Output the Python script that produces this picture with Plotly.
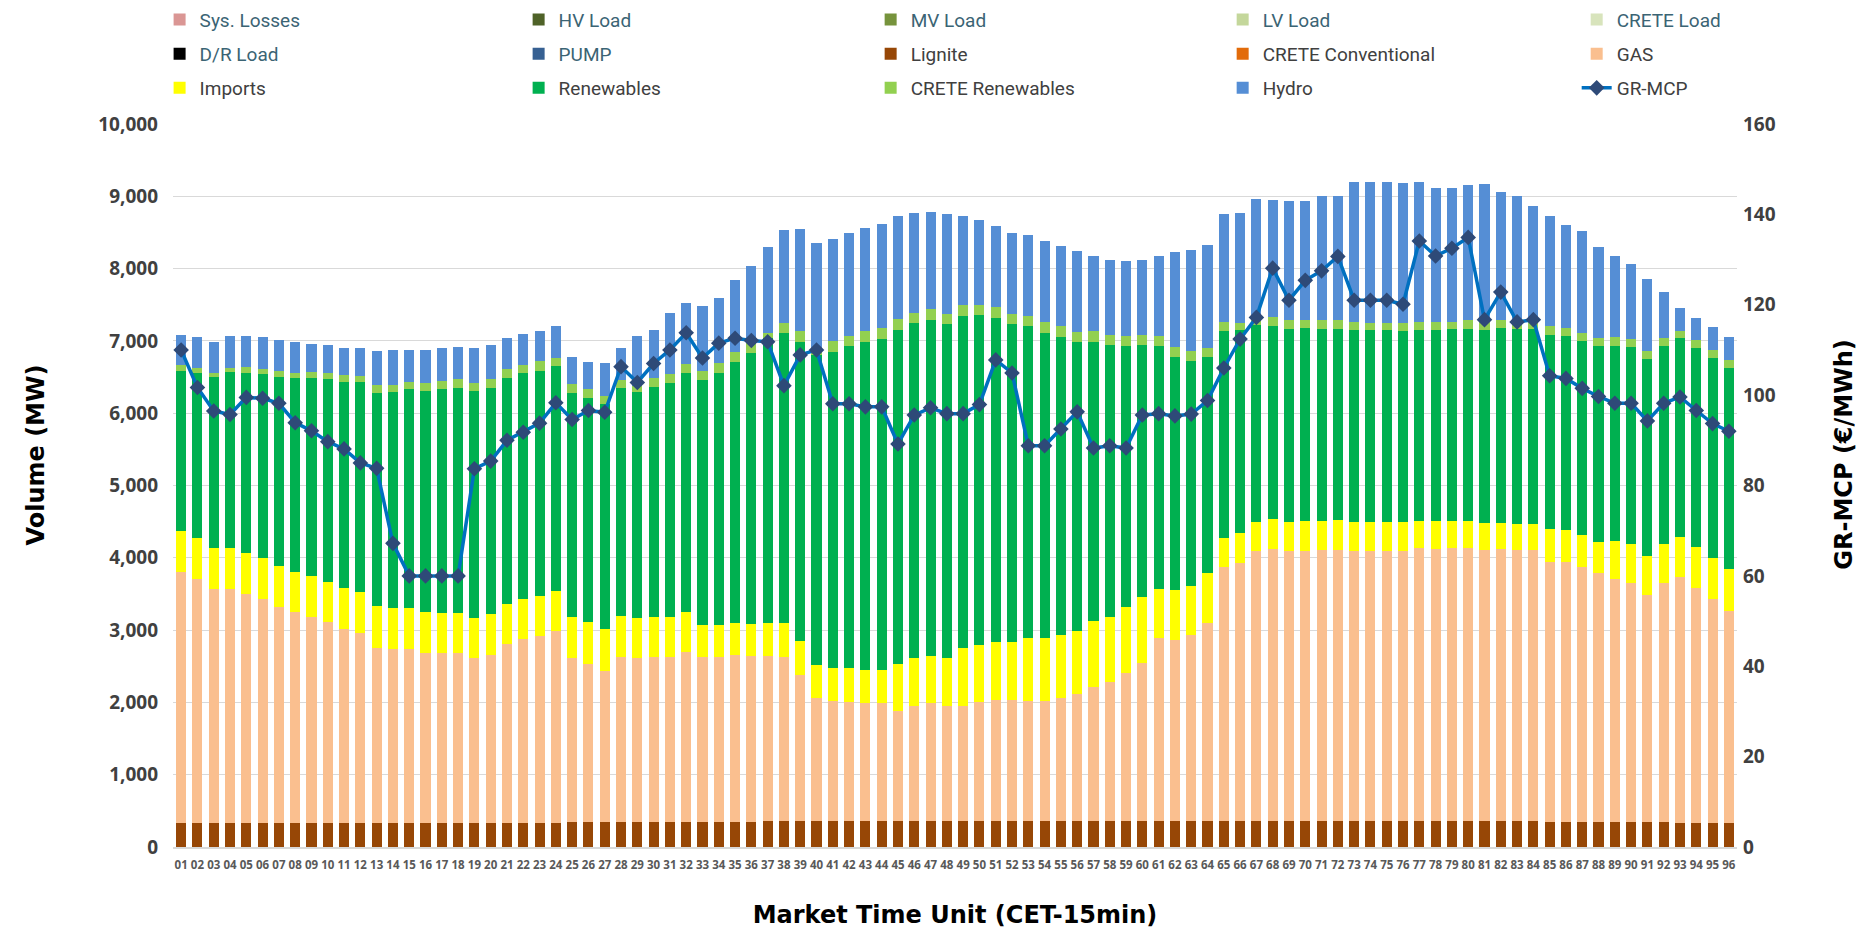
import plotly.graph_objects as go

mtu = [f"{i:02d}" for i in range(1, 97)]

lignite = [330, 330, 330, 330, 330, 330, 330, 330, 330, 330, 330, 330, 330, 330, 330, 330,
           330, 330, 330, 330, 330, 330, 330, 330, 345, 345, 345, 345, 345, 345, 345, 345,
           345, 345, 345, 345, 355, 355, 355, 355, 355, 355, 355, 355, 355, 355, 355, 355,
           355, 355, 355, 355, 355, 355, 355, 355, 355, 355, 355, 355, 355, 355, 355, 355,
           355, 355, 355, 355, 355, 355, 355, 355, 355, 355, 355, 355, 355, 355, 355, 355,
           355, 355, 355, 355, 345, 345, 345, 345, 345, 345, 345, 345, 330, 330, 330, 330]

gas = [3468, 3372, 3245, 3245, 3175, 3105, 2984, 2914, 2851, 2781,
       2685, 2628, 2424, 2405, 2405, 2354, 2354, 2354, 2284, 2329,
       2482, 2545, 2583, 2653, 2263, 2193, 2091, 2282, 2263, 2288,
       2288, 2358, 2288, 2288, 2314, 2301, 2291, 2278, 2030, 1712,
       1668, 1655, 1642, 1642, 1528, 1591, 1636, 1591, 1598, 1649,
       1681, 1681, 1668, 1668, 1706, 1757, 1859, 1922, 2049, 2189,
       2533, 2514, 2577, 2749, 3519, 3576, 3735, 3767, 3742, 3742,
       3748, 3755, 3742, 3742, 3742, 3735, 3786, 3773, 3780, 3786,
       3754, 3761, 3748, 3748, 3599, 3593, 3529, 3440, 3357, 3306,
       3141, 3306, 3398, 3258, 3105, 2940]

imports = [566, 566, 560, 560, 566, 566, 573, 566, 566, 559,
           566, 566, 573, 573, 573, 566, 554, 554, 547, 560,
           553, 554, 560, 560, 573, 573, 579, 573, 553, 548,
           548, 554, 439, 439, 439, 439, 458, 465, 465, 446,
           458, 464, 452, 458, 649, 662, 655, 662, 795, 795,
           795, 795, 865, 871, 871, 871, 909, 910, 910, 916,
           681, 680, 675, 687, 401, 407, 407, 413, 400, 407,
           407, 406, 400, 400, 400, 407, 369, 376, 369, 369,
           369, 369, 369, 369, 451, 445, 445, 439, 534, 541,
           541, 541, 559, 559, 566, 572]

renewables = [2226, 2290, 2360, 2430, 2487, 2545, 2614, 2672, 2741, 2806,
              2856, 2907, 2951, 2989, 3021, 3060, 3098, 3117, 3143, 3136,
              3123, 3123, 3117, 3104, 3104, 3104, 3111, 3142, 3136, 3186,
              3231, 3301, 3384, 3486, 3607, 3747, 3938, 4007, 4141, 4297,
              4370, 4453, 4529, 4574, 4624, 4637, 4644, 4625, 4599, 4554,
              4491, 4402, 4319, 4218, 4122, 3995, 3861, 3753, 3613, 3480,
              3358, 3232, 3117, 2983, 2868, 2812, 2729, 2678, 2672, 2671,
              2659, 2653, 2659, 2653, 2653, 2646, 2646, 2652, 2658, 2659,
              2672, 2690, 2697, 2690, 2691, 2690, 2684, 2703, 2697, 2722,
              2728, 2735, 2748, 2755, 2767, 2786]

crete_renewables = [70, 64, 57, 57, 77, 70, 76, 76, 83, 82,
                    89, 89, 109, 96, 96, 102, 108, 114, 114, 114,
                    121, 121, 127, 121, 114, 121, 108, 115, 83, 121,
                    127, 127, 134, 140, 140, 133, 70, 147, 140, 60,
                    146, 146, 153, 153, 153, 146, 146, 146, 153, 147,
                    146, 146, 140, 146, 147, 140, 147, 140, 140, 140,
                    134, 133, 140, 134, 115, 102, 64, 115, 114, 115,
                    114, 114, 102, 102, 102, 109, 102, 102, 102, 114,
                    108, 108, 101, 96, 115, 109, 109, 115, 115, 109,
                    109, 108, 108, 108, 102, 108]

hydro = [420, 432, 439, 439, 432, 432, 433, 433, 382, 382,
         376, 375, 477, 477, 445, 458, 458, 445, 484, 477,
         433, 426, 426, 433, 376, 369, 458, 451, 687, 668,
         846, 846, 891, 891, 998, 1075, 1189, 1278, 1418, 1488,
         1419, 1419, 1425, 1431, 1425, 1374, 1349, 1380, 1227, 1176,
         1119, 1119, 1120, 1126, 1113, 1119, 1037, 1043, 1043, 1043,
         1107, 1311, 1399, 1419, 1495, 1513, 1666, 1622, 1648, 1641,
         1718, 1724, 1940, 1940, 1940, 1933, 1934, 1851, 1851, 1870,
         1908, 1775, 1731, 1603, 1520, 1424, 1412, 1259, 1132, 1036,
         986, 636, 312, 312, 318, 318]

gr_mcp = [110.0, 101.7, 96.5, 95.7, 99.5, 99.3, 98.2, 93.9, 92.1, 89.7,
          88.1, 85.0, 83.8, 67.2, 60.0, 60.0, 60.0, 60.0, 83.7, 85.4,
          90.0, 91.8, 93.8, 98.3, 94.6, 96.6, 96.2, 106.3, 102.8, 107.0,
          110.0, 113.8, 108.2, 111.5, 112.6, 112.1, 111.8, 102.1, 108.9, 110.0,
          98.1, 98.1, 97.4, 97.4, 89.2, 95.6, 97.2, 95.9, 95.9, 97.9,
          107.8, 104.9, 88.8, 88.8, 92.5, 96.3, 88.3, 88.8, 88.3, 95.6,
          95.9, 95.4, 95.8, 98.8, 106.0, 112.4, 117.2, 128.1, 121.0, 125.4,
          127.5, 130.7, 121.0, 121.0, 121.0, 120.1, 134.1, 130.8, 132.5, 134.9,
          116.7, 122.8, 116.2, 116.7, 104.3, 103.7, 101.5, 99.7, 98.2, 98.2,
          94.3, 98.2, 99.6, 96.6, 93.7, 92.0]

# series listed in the legend but with no visible volume on this chart
empty = [0] * len(mtu)

TEAL = "#3B6474"
GRAY = "#404040"

# (name, values, colour, legend column, row, text colour) in stacking order
bar_series = [
    ("Sys. Losses", empty, "#DA9694", 1, 1, TEAL),
    ("HV Load", empty, "#4F6228", 2, 1, TEAL),
    ("MV Load", empty, "#76933C", 3, 1, TEAL),
    ("LV Load", empty, "#C4D79B", 4, 1, TEAL),
    ("CRETE Load", empty, "#D8E4BC", 5, 1, TEAL),
    ("D/R Load", empty, "#000000", 1, 2, TEAL),
    ("PUMP", empty, "#366092", 2, 2, TEAL),
    ("Lignite", lignite, "#974706", 3, 2, GRAY),
    ("CRETE Conventional", empty, "#E26B0A", 4, 2, GRAY),
    ("GAS", gas, "#FABF8F", 5, 2, GRAY),
    ("Imports", imports, "#FFFF00", 1, 3, GRAY),
    ("Renewables", renewables, "#00B050", 2, 3, GRAY),
    ("CRETE Renewables", crete_renewables, "#92D050", 3, 3, GRAY),
    ("Hydro", hydro, "#558ED5", 4, 3, GRAY),
]

fig = go.Figure()
for name, vals, col, lcol, row, tcol in bar_series:
    fig.add_trace(go.Bar(
        x=mtu, y=vals, name=f'<span style="color:{tcol}">{name}</span>',
        marker=dict(color=col, line=dict(width=0)),
        legend="legend" if lcol == 1 else f"legend{lcol}",
        legendgroup=name, legendrank=row,
    ))

fig.add_trace(go.Scatter(
    x=mtu, y=gr_mcp, name=f'<span style="color:{GRAY}">GR-MCP</span>',
    mode="lines+markers", yaxis="y2",
    line=dict(color="#0070C0", width=3.5),
    marker=dict(symbol="diamond", size=12, color="#2E4A78"),
    legend="legend5", legendgroup="GR-MCP", legendrank=3,
))

# page is drawn with an 8 px body margin, so the figure is 8 px smaller
W, H = 1864, 924
L, T = 165.4, 116.3
plot_right, plot_bottom = 1729.3, 838.7
R, B = W - plot_right, H - plot_bottom
pw, ph = plot_right - L, plot_bottom - T

def px_x(p):
    return (p - L) / pw

def px_y(p):
    return (plot_bottom - p) / ph

legend_font = dict(family="Roboto, Noto Sans", size=19)
legend_common = dict(orientation="v", font=legend_font, bgcolor="rgba(0,0,0,0)",
                     tracegroupgap=6.5, traceorder="grouped", xanchor="left",
                     yanchor="top", y=px_y(-7), itemclick=False, itemdoubleclick=False)
col_lefts = [152, 511, 863, 1215, 1569]
legends = {}
for i, left in enumerate(col_lefts, start=1):
    key = "legend" if i == 1 else f"legend{i}"
    legends[key] = dict(legend_common, x=px_x(left))

tick_font = dict(family="Open Sans, DejaVu Sans", size=19, color="#404040", weight=700)
title_font = dict(family="DejaVu Sans", size=24, color="#000000", weight=700)

fig.update_layout(
    width=W, height=H,
    margin=dict(l=L, r=R, t=T, b=B, autoexpand=False),
    paper_bgcolor="white", plot_bgcolor="white",
    barmode="stack", bargap=0.38,
    showlegend=True,
    **legends,
    xaxis=dict(
        type="category", range=[-0.5, len(mtu) - 0.5], tickangle=0, showgrid=False,
        showline=True, linecolor="#D9D9D9", linewidth=1.5,
        ticks="", ticklabelstandoff=6,
        tickfont=dict(family="Open Sans, DejaVu Sans", size=11.5, color="#595959", weight=700),
        title=dict(text="Market Time Unit (CET-15min)", font=title_font, standoff=36),
    ),
    yaxis=dict(
        range=[0, 10000], dtick=1000, tickformat=",d",
        showgrid=True, gridcolor="#D9D9D9", gridwidth=1.3, zeroline=False,
        ticks="", tickfont=tick_font, ticklabelstandoff=14,
    ),
    yaxis2=dict(
        range=[0, 160], dtick=20, overlaying="y", side="right",
        showgrid=False, zeroline=False, ticks="", tickfont=tick_font,
        ticklabelstandoff=5,
    ),
    annotations=[
        dict(text="Volume (MW)", textangle=-90, font=title_font, showarrow=False,
             xref="paper", yref="paper", x=px_x(28), y=px_y(447),
             xanchor="center", yanchor="middle"),
        dict(text="GR-MCP (€/MWh)", textangle=-90, font=title_font, showarrow=False,
             xref="paper", yref="paper", x=px_x(1836), y=px_y(447),
             xanchor="center", yanchor="middle"),
    ],
)

fig.write_html("out.html")
